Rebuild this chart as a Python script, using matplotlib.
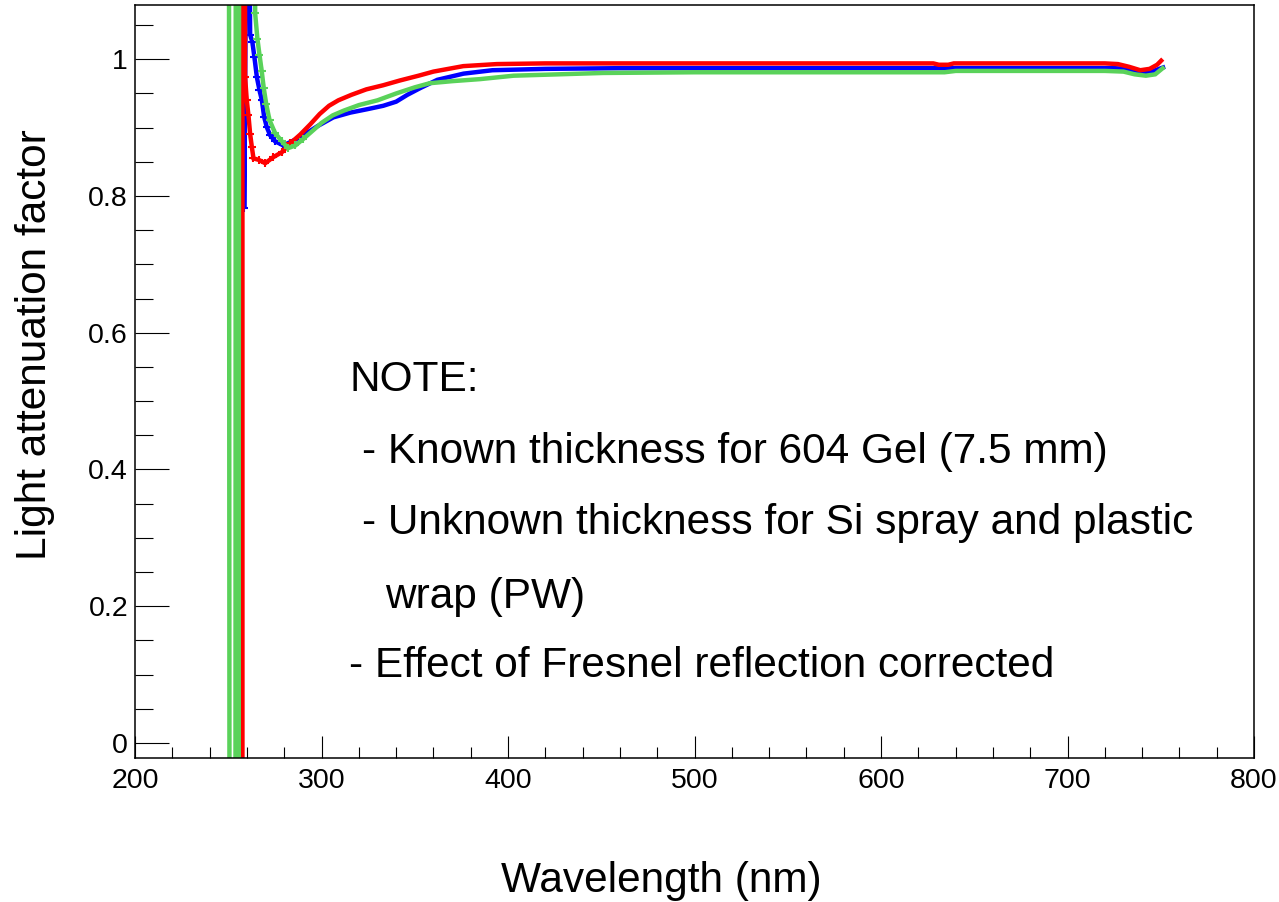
import numpy as np
import matplotlib
matplotlib.use('Agg')
import matplotlib.pyplot as plt
from matplotlib.ticker import MultipleLocator, FuncFormatter

plt.rcParams['font.family'] = ['Liberation Sans', 'DejaVu Sans']

# valeurs (hors échelle au bord = valeurs fictives)
wl_blue = [257.5, 258.5, 260.5, 261.7, 262.9, 264.0, 265.3, 266.7, 268.0, 269.2, 270.6, 272.4,
           275.1, 279.5, 288.6, 297.7, 306.3, 315.4, 324.5, 333.1, 340.0, 346.0, 353.0, 362.1,
           376.1, 391.6, 420, 460, 500, 550, 600, 650, 700, 725, 731.4, 735.7, 740.5, 745, 751.2]
att_blue = [4.0, 0.782, 1.5, 1.036, 1.025, 1.003, 0.974, 0.955, 0.940, 0.916, 0.901, 0.889,
            0.880, 0.874, 0.886, 0.902, 0.915, 0.922, 0.927, 0.932, 0.938, 0.948, 0.958, 0.970,
            0.979, 0.984, 0.986, 0.987, 0.987, 0.987, 0.987, 0.987, 0.987, 0.987, 0.986, 0.984,
            0.981, 0.982, 0.988]

wl_red = [256.8, 257.4, 258.0, 259.0, 259.9, 260.8, 261.7, 262.6, 263.5, 266.2, 269.8, 274.2,
          278.7, 283.2, 288.6, 294, 299, 304, 309, 316, 324, 333, 342, 352, 360, 376, 394,
          420, 460, 500, 550, 600, 628, 631, 636, 639, 680, 720, 727, 733, 739, 744, 748, 750.2]
att_red = [4.0, -0.5, 4.0, 0.974, 0.940, 0.918, 0.891, 0.872, 0.855, 0.853, 0.848, 0.857,
           0.864, 0.877, 0.890, 0.905, 0.920, 0.932, 0.940, 0.948, 0.956, 0.962, 0.969, 0.976,
           0.982, 0.990, 0.993, 0.994, 0.994, 0.994, 0.994, 0.994, 0.994, 0.992, 0.992, 0.994,
           0.994, 0.994, 0.993, 0.989, 0.984, 0.986, 0.992, 0.998]

wl_green = [249.8, 250.7, 253.8, 254.3, 255.4, 256.4, 263.3, 264.4, 265.6, 266.7, 267.9, 269.0,
            270.3, 272.1, 275.1, 278.7, 282, 286, 290, 295, 300, 306, 312, 320, 330, 340, 350,
            358, 370, 385, 403, 451, 500, 550, 600, 634, 640, 680, 720, 730, 736, 742, 747, 751]
att_green = [4.0, -0.5, -0.5, 4.0, -0.5, 4.0, 4.0, 1.067, 1.030, 1.007, 0.983, 0.958,
             0.935, 0.911, 0.892, 0.880, 0.870, 0.874, 0.883, 0.895, 0.907, 0.918, 0.925, 0.933,
             0.940, 0.950, 0.959, 0.965, 0.968, 0.971, 0.976, 0.980, 0.981, 0.981, 0.981, 0.981,
             0.983, 0.983, 0.983, 0.982, 0.978, 0.976, 0.978, 0.987]

note_lines = ['NOTE:',
              '- Known thickness for 604 Gel (7.5 mm)',
              '- Unknown thickness for Si spray and plastic',
              'wrap (PW)',
              '- Effect of Fresnel reflection corrected']

fig = plt.figure(figsize=(12.79, 9.02), dpi=100)
ax = fig.add_axes([0.1056, 0.1597, 0.8749, 0.8352])

series = [(wl_blue, att_blue, '#0000ff', 14),
          (wl_red, att_red, '#ff0000', 14),
          (wl_green, att_green, '#5ad25a', 19)]
for wl, att, col, nmark in series:
    ax.plot(wl, att, color=col, lw=3.2, solid_joinstyle='miter')
    ax.plot(wl[:nmark], att[:nmark], ls='none', marker='+', color=col,
            markersize=6, markeredgewidth=1.5)

ax.set_xlim(200, 800)
ax.set_ylim(-0.022, 1.08)

ax.xaxis.set_major_locator(MultipleLocator(100))
ax.xaxis.set_minor_locator(MultipleLocator(20))
ax.yaxis.set_major_locator(MultipleLocator(0.2))
ax.yaxis.set_minor_locator(MultipleLocator(0.05))
ax.yaxis.set_major_formatter(FuncFormatter(lambda v, p: '%g' % round(v, 2)))

ax.tick_params(axis='both', which='both', direction='in', width=0.8, labelsize=20.5,
               top=False, right=False)
ax.tick_params(axis='y', which='major', length=24.5, pad=5)
ax.tick_params(axis='y', which='minor', length=12.7)
ax.tick_params(axis='x', which='major', length=15.8, pad=7)
ax.tick_params(axis='x', which='minor', length=7.9)
for s in ax.spines.values():
    s.set_linewidth(1.1)

ax.set_xlabel('Wavelength (nm)', fontsize=30.5, va='center')
ax.xaxis.set_label_coords(0.470, -0.1638)
ax.set_ylabel('Light attenuation factor', fontsize=30.5, va='center')
ax.yaxis.set_label_coords(-0.0894, 0.5486)

xs = [0.1912, 0.2029, 0.2029, 0.2234, 0.1912]
ys = [0.502, 0.406, 0.3116, 0.213, 0.1225]
for t, x, y in zip(note_lines, xs, ys):
    ax.text(x, y, t, transform=ax.transAxes, fontsize=30.5, ha='left', va='center')

fig.savefig('out.png', dpi=100)
